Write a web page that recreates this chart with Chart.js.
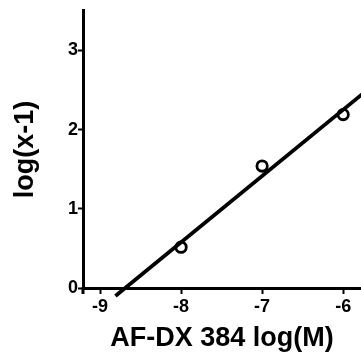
<!DOCTYPE html>
<html>
<head>
<meta charset="utf-8">
<script src="https://cdn.jsdelivr.net/npm/chart.js@4/dist/chart.umd.min.js"></script>
<style>
  html, body { margin: 0; padding: 0; background: #fff; }
  #wrap { width: 361px; height: 358px; }
</style>
</head>
<body>
<div id="wrap"><canvas id="c" width="361" height="358"></canvas></div>
<script>
// Schild plot: log(dose ratio - 1) against antagonist concentration
const logConc = [-8, -7, -6];
const logDR1 = [0.515, 1.54, 2.19];

// Ends of the fitted regression line
const fitX = [-8.81, -5.75];
const fitY = [-0.10, 2.46];

const xTicks = [-9, -8, -7, -6];
const yTicks = [0, 1, 2, 3];

const FONT = "'Liberation Sans', Arial, Helvetica, sans-serif";

// Lengthen the y axis a little below the x axis, as in the plotting style used
const axisFoot = {
  id: 'axisFoot',
  afterDraw(chart) {
    const { ctx, chartArea } = chart;
    const x = chart.scales.x.left;
    ctx.save();
    ctx.strokeStyle = '#000';
    ctx.lineWidth = 3;
    ctx.beginPath();
    ctx.moveTo(x, chartArea.bottom - 1);
    ctx.lineTo(x, chartArea.bottom + 6);
    ctx.stroke();
    ctx.restore();
  }
};

new Chart(document.getElementById('c'), {
  type: 'scatter',
  data: {
    datasets: [
      {
        label: 'fit',
        data: fitX.map((x, i) => ({ x, y: fitY[i] })),
        showLine: true,
        borderColor: '#000',
        borderWidth: 3.8,
        pointRadius: 0,
        clip: false,
        order: 2
      },
      {
        label: 'data',
        data: logConc.map((x, i) => ({ x, y: logDR1[i] })),
        pointStyle: 'circle',
        pointRadius: 5.2,
        borderWidth: 2.8,
        borderColor: '#000',
        backgroundColor: 'rgba(255,255,255,0)',
        order: 1
      }
    ]
  },
  options: {
    responsive: false,
    animation: false,
    layout: { autoPadding: false, padding: { top: 10, right: 0, left: 0, bottom: 0 } },
    plugins: {
      legend: { display: false },
      tooltip: { enabled: false }
    },
    scales: {
      x: {
        type: 'linear',
        min: -9.21,
        max: -5.78,
        afterBuildTicks(scale) { scale.ticks = xTicks.map(v => ({ value: v })); },
        afterFit(scale) { scale.height = 70; },
        grid: {
          drawOnChartArea: false,
          drawTicks: true,
          tickLength: 6,
          tickWidth: 2,
          tickColor: '#000'
        },
        border: { display: true, color: '#000', width: 3 },
        ticks: {
          color: '#000',
          padding: 2,
          maxRotation: 0,
          font: { family: FONT, size: 18, weight: 'bold' },
          callback: v => String(v)
        },
        title: {
          display: true,
          text: 'AF-DX 384 log(M)',
          color: '#000',
          padding: { top: 0, bottom: 3 },
          font: { family: FONT, size: 27, weight: 'bold' }
        }
      },
      y: {
        type: 'linear',
        min: 0,
        max: 3.5,
        afterBuildTicks(scale) { scale.ticks = yTicks.map(v => ({ value: v })); },
        afterFit(scale) { scale.width = 83; },
        grid: {
          drawOnChartArea: false,
          drawTicks: true,
          tickLength: 5,
          tickWidth: 2,
          tickColor: '#000'
        },
        border: { display: true, color: '#000', width: 3 },
        ticks: {
          color: '#000',
          padding: 0,
          font: { family: FONT, size: 18, weight: 'bold' },
          callback: v => String(v)
        },
        title: {
          display: true,
          text: 'log(x-1)',
          color: '#000',
          padding: { top: 9, bottom: 0 },
          font: { family: FONT, size: 27, weight: 'bold' }
        }
      }
    }
  },
  plugins: [axisFoot]
});
</script>
</body>
</html>
